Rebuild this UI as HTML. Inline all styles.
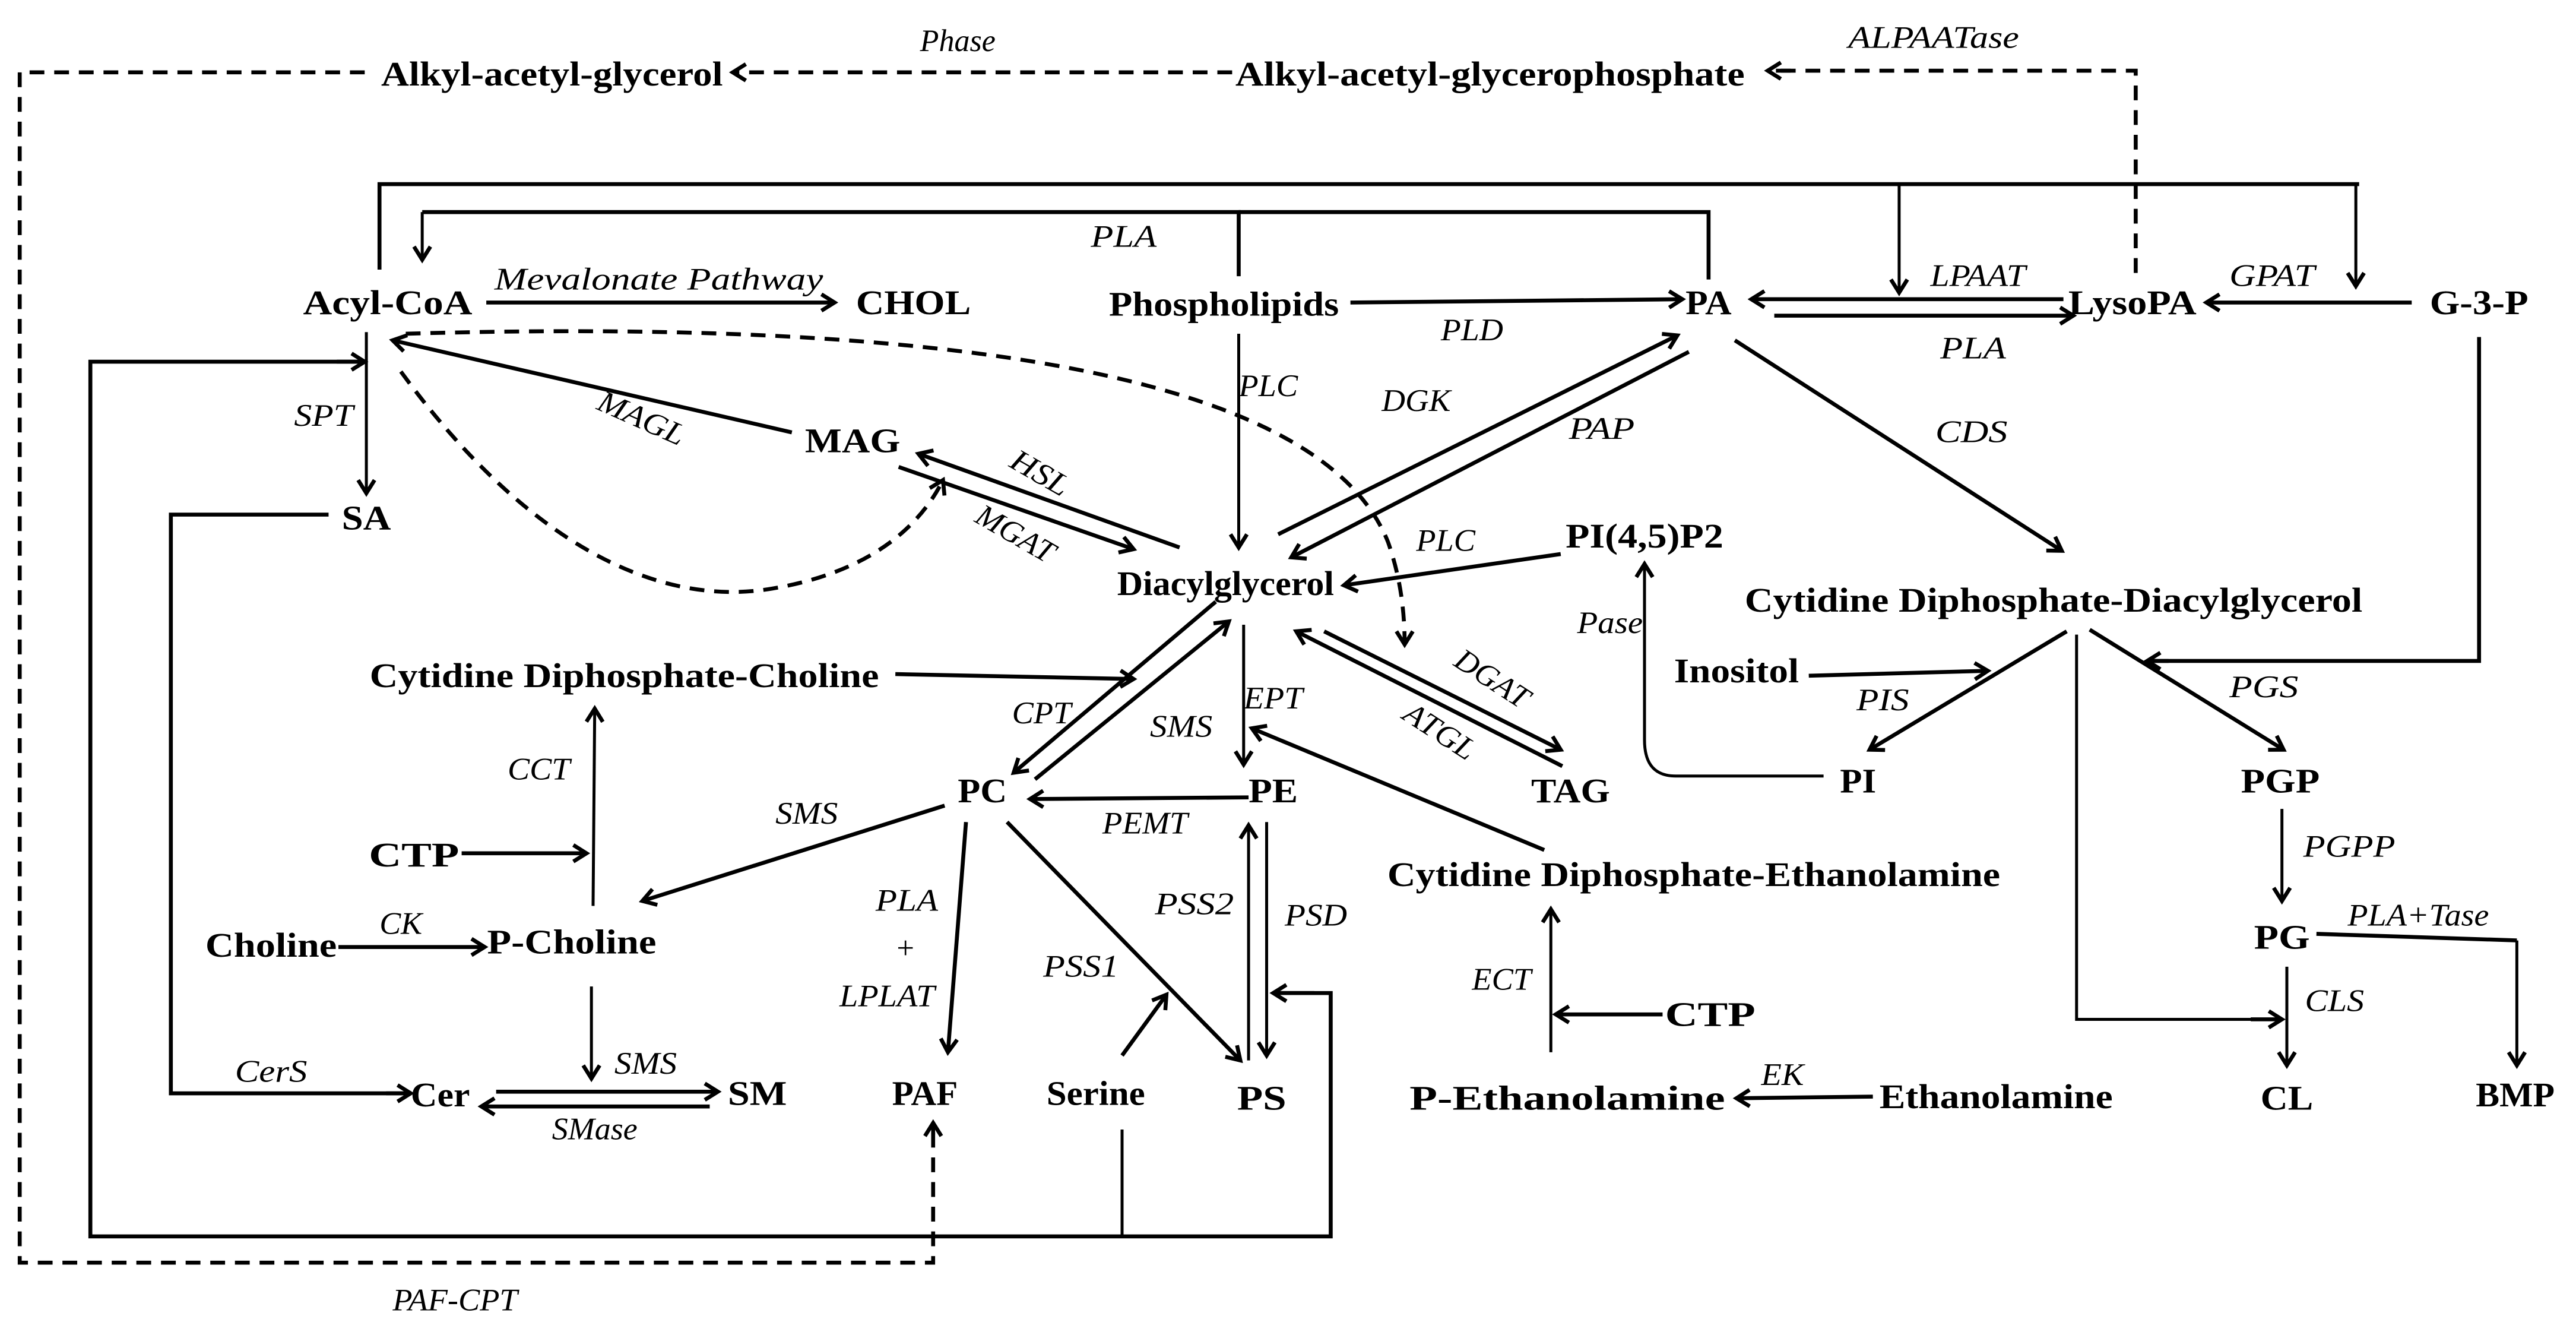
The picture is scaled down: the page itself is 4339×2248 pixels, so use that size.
<!DOCTYPE html>
<html><head><meta charset="utf-8"><style>
html,body{margin:0;padding:0;background:#fff;}
svg{display:block;}
.n{font-family:"Liberation Serif","Times New Roman",serif;font-weight:bold;font-size:21px;fill:#000;text-anchor:middle;}
.e{font-family:"Liberation Serif","Times New Roman",serif;font-style:italic;font-size:19px;fill:#000;text-anchor:middle;}
.l{stroke:#000;stroke-width:2.4;fill:none;}
.t{stroke:#000;stroke-width:1.8;fill:none;}
.d{stroke:#000;stroke-width:2.4;fill:none;stroke-dasharray:9,6;}
.a{marker-end:url(#ar);}
</style></head><body>
<svg width="4339" height="2248" viewBox="0 0 1568 812" preserveAspectRatio="none" xmlns="http://www.w3.org/2000/svg">
<defs>
<marker id="ar" markerUnits="userSpaceOnUse" markerWidth="14" markerHeight="14" refX="10" refY="6" orient="auto">
<path d="M2,1 L10,6 L2,11" fill="none" stroke="#000" stroke-width="2.4"/>
</marker>
</defs>
<rect width="1568" height="812" fill="#fff"/>

<!-- top dashed -->
<path class="d" d="M222,44 H12 V768 H568 V685"/>
<path class="d" d="M568,690 L568,683" marker-end="url(#ar)"/>
<line class="d a" x1="750" y1="44" x2="446" y2="44"/>
<path class="d" d="M1300,166 V43 H1080"/>
<line class="d a" x1="1090" y1="43" x2="1076" y2="43"/>
<text class="n" x="336" y="52" textLength="208" lengthAdjust="spacingAndGlyphs">Alkyl-acetyl-glycerol</text>
<text class="n" x="907" y="52" textLength="310" lengthAdjust="spacingAndGlyphs">Alkyl-acetyl-glycerophosphate</text>
<text class="e" x="583" y="31" textLength="46" lengthAdjust="spacingAndGlyphs">Phase</text>
<text class="e" x="1177" y="29" textLength="104" lengthAdjust="spacingAndGlyphs">ALPAATase</text>

<!-- top solid loops -->
<path class="l" d="M231,164 V112 H1436"/>
<line class="t a" x1="1156" y1="112" x2="1156" y2="178"/>
<line class="t a" x1="1434" y1="112" x2="1434" y2="174"/>
<path class="l" d="M754,168 V129 H257"/>
<line class="t a" x1="257" y1="129" x2="257" y2="158"/>
<path class="l" d="M1040,170 V129 H754"/>
<text class="e" x="684" y="150" textLength="40" lengthAdjust="spacingAndGlyphs">PLA</text>

<!-- row 1 -->
<text class="n" x="236" y="191" textLength="103" lengthAdjust="spacingAndGlyphs">Acyl-CoA</text>
<text class="e" x="401" y="176" textLength="200" lengthAdjust="spacingAndGlyphs">Mevalonate Pathway</text>
<line class="l a" x1="296" y1="184" x2="508" y2="184"/>
<text class="n" x="556" y="191" textLength="70" lengthAdjust="spacingAndGlyphs">CHOL</text>
<text class="n" x="745" y="192" textLength="140" lengthAdjust="spacingAndGlyphs">Phospholipids</text>
<line class="l a" x1="822" y1="184" x2="1024" y2="182"/>
<text class="e" x="896" y="207" textLength="38" lengthAdjust="spacingAndGlyphs">PLD</text>
<text class="n" x="1040" y="191" textLength="28" lengthAdjust="spacingAndGlyphs">PA</text>
<line class="l a" x1="1256" y1="182" x2="1066" y2="182"/>
<line class="l a" x1="1080" y1="192" x2="1262" y2="192"/>
<text class="e" x="1204" y="174" textLength="58" lengthAdjust="spacingAndGlyphs">LPAAT</text>
<text class="e" x="1201" y="218" textLength="40" lengthAdjust="spacingAndGlyphs">PLA</text>
<text class="n" x="1298" y="191" textLength="78" lengthAdjust="spacingAndGlyphs">LysoPA</text>
<line class="l a" x1="1468" y1="184" x2="1343" y2="184"/>
<text class="e" x="1383" y="174" textLength="52" lengthAdjust="spacingAndGlyphs">GPAT</text>
<text class="n" x="1509" y="191" textLength="60" lengthAdjust="spacingAndGlyphs">G-3-P</text>
<path class="l" d="M1509,205 V402 H1310"/>
<line class="l a" x1="1320" y1="402" x2="1307" y2="402"/>

<!-- acyl-coa region -->
<line class="t a" x1="223" y1="202" x2="223" y2="300"/>
<text class="e" x="197" y="259" textLength="36" lengthAdjust="spacingAndGlyphs">SPT</text>
<text class="n" x="223" y="322" textLength="30" lengthAdjust="spacingAndGlyphs">SA</text>
<path class="l" d="M200,313 H104 V665 H248"/>
<line class="l a" x1="235" y1="665" x2="250" y2="665"/>
<text class="e" x="165" y="658" textLength="44" lengthAdjust="spacingAndGlyphs">CerS</text>
<path class="l" d="M776,604 H810 V752 H55 V220 H222"/>
<line class="l a" x1="205" y1="220" x2="222" y2="220"/>
<line class="t" x1="683" y1="687" x2="683" y2="752"/>
<line class="l a" x1="800" y1="604" x2="775" y2="604"/>

<line class="l a" x1="482" y1="263" x2="239" y2="207"/>
<text class="e" x="388" y="260" transform="rotate(24 388 260)" textLength="56" lengthAdjust="spacingAndGlyphs">MAGL</text>
<text class="n" x="519" y="275" textLength="58" lengthAdjust="spacingAndGlyphs">MAG</text>
<line class="l a" x1="718" y1="333" x2="559" y2="276"/>
<line class="l a" x1="547" y1="284" x2="690" y2="334"/>
<text class="e" x="630" y="293" transform="rotate(30 630 293)" textLength="38" lengthAdjust="spacingAndGlyphs">HSL</text>
<text class="e" x="615" y="330" transform="rotate(30 615 330)" textLength="52" lengthAdjust="spacingAndGlyphs">MGAT</text>

<path class="d a" d="M247,203 C520,195 800,215 845,330 C852,350 855,370 855,392"/>
<path class="d a" d="M244,226 C320,330 400,370 470,358 C530,348 560,320 574,292"/>

<!-- DAG -->
<line class="t a" x1="754" y1="203" x2="754" y2="333"/>
<text class="e" x="772" y="241" textLength="36" lengthAdjust="spacingAndGlyphs">PLC</text>
<text class="n" x="746" y="362" textLength="132" lengthAdjust="spacingAndGlyphs">Diacylglycerol</text>
<line class="l a" x1="778" y1="325" x2="1021" y2="204"/>
<line class="l a" x1="1028" y1="214" x2="786" y2="339"/>
<text class="e" x="862" y="250" textLength="42" lengthAdjust="spacingAndGlyphs">DGK</text>
<text class="e" x="975" y="267" textLength="40" lengthAdjust="spacingAndGlyphs">PAP</text>
<line class="l a" x1="1056" y1="207" x2="1255" y2="335"/>
<text class="e" x="1200" y="269" textLength="44" lengthAdjust="spacingAndGlyphs">CDS</text>
<text class="n" x="1001" y="333" textLength="96" lengthAdjust="spacingAndGlyphs">PI(4,5)P2</text>
<line class="l a" x1="950" y1="337" x2="818" y2="356"/>
<text class="e" x="880" y="335" textLength="36" lengthAdjust="spacingAndGlyphs">PLC</text>
<path class="t a" d="M1110,472 H1020 C1005,472 1001,462 1001,450 L1001,343"/>
<text class="e" x="980" y="385" textLength="40" lengthAdjust="spacingAndGlyphs">Pase</text>

<text class="n" x="1250" y="372" textLength="376" lengthAdjust="spacingAndGlyphs">Cytidine Diphosphate-Diacylglycerol</text>
<text class="n" x="1057" y="415" textLength="76" lengthAdjust="spacingAndGlyphs">Inositol</text>
<line class="l a" x1="1101" y1="411" x2="1210" y2="408"/>
<text class="e" x="1146" y="432" textLength="32" lengthAdjust="spacingAndGlyphs">PIS</text>
<line class="l a" x1="1258" y1="384" x2="1138" y2="456"/>
<text class="n" x="1131" y="482" textLength="22" lengthAdjust="spacingAndGlyphs">PI</text>
<path class="t" d="M1264,386 V620 H1385"/>
<line class="l a" x1="1370" y1="620" x2="1389" y2="620"/>
<line class="l a" x1="1272" y1="383" x2="1390" y2="456"/>
<text class="e" x="1378" y="424" textLength="42" lengthAdjust="spacingAndGlyphs">PGS</text>
<text class="n" x="1388" y="482" textLength="48" lengthAdjust="spacingAndGlyphs">PGP</text>
<line class="t a" x1="1389" y1="492" x2="1389" y2="548"/>
<text class="e" x="1430" y="521" textLength="56" lengthAdjust="spacingAndGlyphs">PGPP</text>
<text class="n" x="1389" y="577" textLength="34" lengthAdjust="spacingAndGlyphs">PG</text>
<text class="e" x="1472" y="563" textLength="86" lengthAdjust="spacingAndGlyphs">PLA+Tase</text>
<path class="l" d="M1410,568 L1532,572"/>
<line class="t a" x1="1532" y1="572" x2="1532" y2="648"/>
<text class="n" x="1531" y="673" textLength="48" lengthAdjust="spacingAndGlyphs">BMP</text>
<line class="t a" x1="1392" y1="588" x2="1392" y2="648"/>
<text class="e" x="1421" y="615" textLength="36" lengthAdjust="spacingAndGlyphs">CLS</text>
<text class="n" x="1392" y="675" textLength="32" lengthAdjust="spacingAndGlyphs">CL</text>

<!-- lower left -->
<text class="n" x="380" y="418" textLength="310" lengthAdjust="spacingAndGlyphs">Cytidine Diphosphate-Choline</text>
<line class="l a" x1="545" y1="410" x2="690" y2="413"/>
<line class="l a" x1="740" y1="366" x2="617" y2="470"/>
<line class="l a" x1="630" y1="474" x2="748" y2="378"/>
<text class="e" x="634" y="440" textLength="36" lengthAdjust="spacingAndGlyphs">CPT</text>
<text class="e" x="719" y="448" textLength="38" lengthAdjust="spacingAndGlyphs">SMS</text>
<line class="t a" x1="757" y1="380" x2="757" y2="465"/>
<text class="e" x="775" y="431" textLength="36" lengthAdjust="spacingAndGlyphs">EPT</text>
<line class="l a" x1="940" y1="517" x2="762" y2="443"/>
<text class="n" x="598" y="488" textLength="30" lengthAdjust="spacingAndGlyphs">PC</text>
<text class="n" x="775" y="488" textLength="30" lengthAdjust="spacingAndGlyphs">PE</text>
<line class="l a" x1="760" y1="485" x2="627" y2="486"/>
<text class="e" x="697" y="507" textLength="52" lengthAdjust="spacingAndGlyphs">PEMT</text>
<line class="l a" x1="575" y1="490" x2="391" y2="548"/>
<text class="e" x="491" y="501" textLength="38" lengthAdjust="spacingAndGlyphs">SMS</text>
<line class="l a" x1="588" y1="500" x2="577" y2="640"/>
<text class="e" x="552" y="554" textLength="38" lengthAdjust="spacingAndGlyphs">PLA</text>
<text class="e" x="551" y="583">+</text>
<text class="e" x="540" y="612" textLength="58" lengthAdjust="spacingAndGlyphs">LPLAT</text>
<line class="l a" x1="613" y1="500" x2="755" y2="645"/>
<text class="e" x="658" y="594" textLength="46" lengthAdjust="spacingAndGlyphs">PSS1</text>
<line class="l a" x1="683" y1="642" x2="710" y2="605"/>
<line class="t a" x1="760" y1="645" x2="760" y2="502"/>
<line class="t a" x1="771" y1="500" x2="771" y2="642"/>
<text class="e" x="727" y="556" textLength="48" lengthAdjust="spacingAndGlyphs">PSS2</text>
<text class="e" x="801" y="563" textLength="38" lengthAdjust="spacingAndGlyphs">PSD</text>
<text class="n" x="563" y="672" textLength="40" lengthAdjust="spacingAndGlyphs">PAF</text>
<text class="n" x="667" y="672" textLength="60" lengthAdjust="spacingAndGlyphs">Serine</text>
<text class="n" x="768" y="675" textLength="30" lengthAdjust="spacingAndGlyphs">PS</text>

<line class="t a" x1="361" y1="551" x2="362" y2="431"/>
<text class="e" x="328" y="474" textLength="38" lengthAdjust="spacingAndGlyphs">CCT</text>
<text class="n" x="252" y="527" textLength="55" lengthAdjust="spacingAndGlyphs">CTP</text>
<line class="l a" x1="281" y1="519" x2="357" y2="519"/>
<text class="n" x="165" y="582" textLength="80" lengthAdjust="spacingAndGlyphs">Choline</text>
<line class="l a" x1="206" y1="576" x2="295" y2="576"/>
<text class="e" x="244" y="568" textLength="26" lengthAdjust="spacingAndGlyphs">CK</text>
<text class="n" x="348" y="580" textLength="103" lengthAdjust="spacingAndGlyphs">P-Choline</text>
<line class="t a" x1="360" y1="600" x2="360" y2="656"/>
<text class="e" x="393" y="653" textLength="38" lengthAdjust="spacingAndGlyphs">SMS</text>
<text class="n" x="268" y="673" textLength="36" lengthAdjust="spacingAndGlyphs">Cer</text>
<text class="n" x="461" y="672" textLength="36" lengthAdjust="spacingAndGlyphs">SM</text>
<line class="l a" x1="302" y1="664" x2="437" y2="664"/>
<line class="l a" x1="432" y1="673" x2="293" y2="673"/>
<text class="e" x="362" y="693" textLength="52" lengthAdjust="spacingAndGlyphs">SMase</text>
<text class="e" x="277" y="797" textLength="76" lengthAdjust="spacingAndGlyphs">PAF-CPT</text>

<!-- lower right -->
<line class="l a" x1="806" y1="384" x2="950" y2="456"/>
<line class="l a" x1="951" y1="466" x2="789" y2="384"/>
<text class="e" x="905" y="418" transform="rotate(33 905 418)" textLength="50" lengthAdjust="spacingAndGlyphs">DGAT</text>
<text class="e" x="873" y="450" transform="rotate(33 873 450)" textLength="48" lengthAdjust="spacingAndGlyphs">ATGL</text>
<text class="n" x="956" y="488" textLength="48" lengthAdjust="spacingAndGlyphs">TAG</text>
<text class="n" x="1031" y="539" textLength="373" lengthAdjust="spacingAndGlyphs">Cytidine Diphosphate-Ethanolamine</text>
<line class="t a" x1="944" y1="640" x2="944" y2="553"/>
<text class="e" x="914" y="602" textLength="36" lengthAdjust="spacingAndGlyphs">ECT</text>
<text class="n" x="1041" y="624" textLength="55" lengthAdjust="spacingAndGlyphs">CTP</text>
<line class="l a" x1="1012" y1="617" x2="947" y2="617"/>
<text class="n" x="954" y="675" textLength="192" lengthAdjust="spacingAndGlyphs">P-Ethanolamine</text>
<line class="l a" x1="1140" y1="667" x2="1057" y2="668"/>
<text class="e" x="1085" y="660" textLength="26" lengthAdjust="spacingAndGlyphs">EK</text>
<text class="n" x="1215" y="674" textLength="142" lengthAdjust="spacingAndGlyphs">Ethanolamine</text>
</svg>
</body></html>
